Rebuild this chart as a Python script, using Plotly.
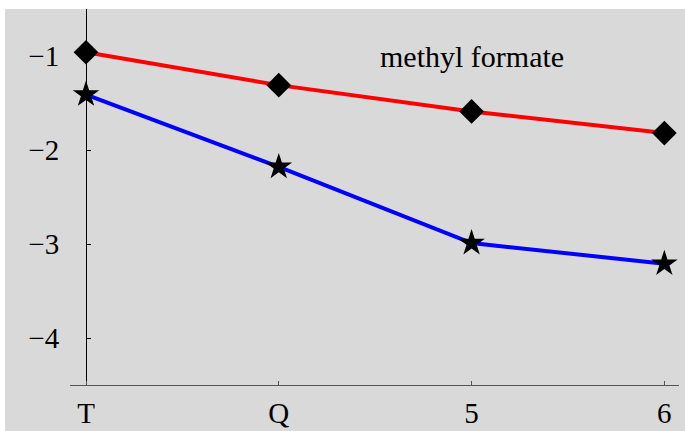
import plotly.graph_objects as go

categories = ["T", "Q", "5", "6"]
red_values = [-0.96, -1.31, -1.59, -1.82]
blue_values = [-1.41, -2.18, -2.99, -3.21]
y_ticks = [-1, -2, -3, -4]
label_text = "methyl formate"

W, H = 685, 431
ML, MR, MT, MB = 70, 6, 9, 46
pw, ph = W - ML - MR, H - MT - MB
GRAY = "#d9d9d9"
FONT = "Liberation Serif"

fig = go.Figure()
fig.add_trace(go.Scatter(
    x=categories, y=red_values, mode="lines+markers",
    line=dict(color="#ff0000", width=4),
    marker=dict(symbol="diamond", size=19, color="black"),
    showlegend=False, cliponaxis=False, hoverinfo="skip"))
fig.add_trace(go.Scatter(
    x=categories, y=blue_values, mode="lines+markers",
    line=dict(color="#0000ff", width=4),
    marker=dict(symbol="star", size=20, color="black"),
    showlegend=False, cliponaxis=False, hoverinfo="skip"))

fig.add_annotation(x=2, y=-1.0, xref="x", yref="y", text=label_text,
                   showarrow=False, font=dict(family=FONT, size=30, color="black"),
                   xanchor="center", yanchor="middle")

# gray panel (leaves thin white strip at left and top)
fig.add_shape(type="rect", xref="paper", yref="paper", layer="below",
              x0=(5 - ML) / pw, x1=(W - ML) / pw + 0.01,
              y0=-MB / ph - 0.01, y1=1.0,
              fillcolor=GRAY, line=dict(width=0))

fig.update_layout(
    width=W, height=H,
    margin=dict(l=ML, r=MR, t=MT, b=MB, autoexpand=False),
    paper_bgcolor="white", plot_bgcolor=GRAY,
    font=dict(family=FONT, size=29, color="black"),
    xaxis=dict(type="category", categoryorder="array", categoryarray=categories,
               range=[-0.083, 3.076], showgrid=False, zeroline=False,
               automargin=False,
               showline=True, linecolor="#555555", linewidth=1,
               ticks="inside", ticklen=4, tickcolor="#555555",
               tickvals=categories, ticktext=categories,
               ticklabelstandoff=2),
    yaxis=dict(range=[-4.5, -0.5], showgrid=False, zeroline=False,
               automargin=False,
               anchor="free", position=(86 - ML) / pw,
               showline=True, linecolor="black", linewidth=1,
               ticks="inside", ticklen=4, tickcolor="black",
               tickvals=y_ticks, ticklabelstandoff=21),
)

fig.write_html("out.html", config={"displayModeBar": False},
               post_script="document.body.style.margin='0';document.body.style.overflow='hidden';")
